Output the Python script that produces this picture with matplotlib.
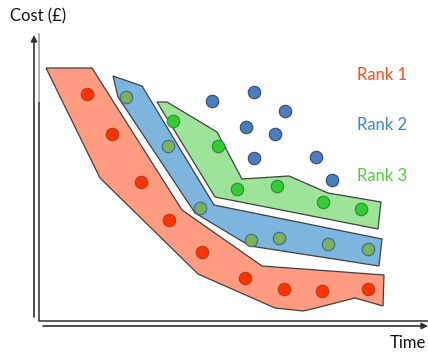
import matplotlib.pyplot as plt
from matplotlib.patches import Polygon

plt.rcParams['font.family'] = ['Lato', 'DejaVu Sans']

# front outlines (time, cost)
rank1_time = [46, 92, 182, 262, 384, 383, 355, 312, 303, 275, 198, 100]
rank1_cost = [285, 285, 143, 87, 78, 47, 55, 44, 42, 45, 79, 175]
rank2_time = [113, 142, 214, 382, 379, 250, 195, 118]
rank2_cost = [277, 267, 148, 114, 87, 107, 140, 256]
rank3_time = [157, 167, 217, 242, 289, 328, 381, 378, 215]
rank3_cost = [251, 251, 221, 174, 177, 160, 151, 124, 156]

# solutions on each front
r1_pts_time = [87, 112, 141, 169, 202, 245, 284, 322, 368]
r1_pts_cost = [259, 219, 171, 133, 101, 75, 64, 62, 64]
r2_pts_time = [126, 168, 200, 251, 279, 328, 368]
r2_pts_cost = [256, 207, 145, 113, 115, 109, 104]
r3_pts_time = [173, 218, 237, 277, 323, 361]
r3_pts_cost = [232, 207, 164, 167, 151, 144]
# remaining (dominated) solutions
other_time = [212, 254, 285, 246, 275, 254, 316, 332]
other_cost = [252, 261, 242, 226, 219, 195, 196, 173]

rank_labels = ['Rank 1', 'Rank 2', 'Rank 3']
rank_colors = ['#FF4A1C', '#3A86CF', '#55C93A']

fig = plt.figure(figsize=(4.28, 3.53), dpi=100)
ax = fig.add_axes([0, 0, 1, 1])
ax.set_xlim(0, 428)
ax.set_ylim(0, 353)
ax.axis('off')

edge = '#404040'
fronts = [
    (rank1_time, rank1_cost, '#FF9B80'),
    (rank2_time, rank2_cost, '#7DB5DF'),
    (rank3_time, rank3_cost, '#9DE39A'),
]
for t, c, fc in fronts:
    ax.add_patch(Polygon(list(zip(t, c)), closed=True, facecolor=fc,
                         edgecolor=edge, lw=0.9, zorder=2))

dot_style = dict(s=80, linewidths=0.8, zorder=3)
ax.scatter(r1_pts_time, r1_pts_cost, c='#FF3300', edgecolors='#B8391C', **dot_style)
ax.scatter(r2_pts_time, r2_pts_cost, c='#7DB05C', edgecolors='#3D6A80', **dot_style)
ax.scatter(r3_pts_time, r3_pts_cost, c='#33CC33', edgecolors='#2E8A3A', **dot_style)
ax.scatter(other_time, other_cost, c='#4A7EBB', edgecolors='#2C4D75', **dot_style)

# axes: arrow lines plus the inner frame
arrow = dict(arrowstyle='-|>', mutation_scale=9, lw=1.2, color='#303030',
             shrinkA=0, shrinkB=0)
ax.annotate('', xy=(34, 318), xytext=(34, 36), arrowprops=arrow)
ax.annotate('', xy=(428, 27), xytext=(43, 27), arrowprops=arrow)
ax.plot([39, 39], [319, 250], color='#A0A0A0', lw=1.2, zorder=1)
ax.plot([39, 39, 428], [250, 32, 32], color='#404040', lw=1.2, zorder=1)

ax.text(10, 337, 'Cost (£)', fontsize=12, va='center', ha='left', color='#111111')
ax.text(390, 10, 'Time', fontsize=12, va='center', ha='left', color='#111111')
for label, color, y in zip(rank_labels, rank_colors, [278, 228, 177]):
    ax.text(357, y, label, fontsize=12, va='center', ha='left', color=color)

fig.savefig('out.png', dpi=100)
